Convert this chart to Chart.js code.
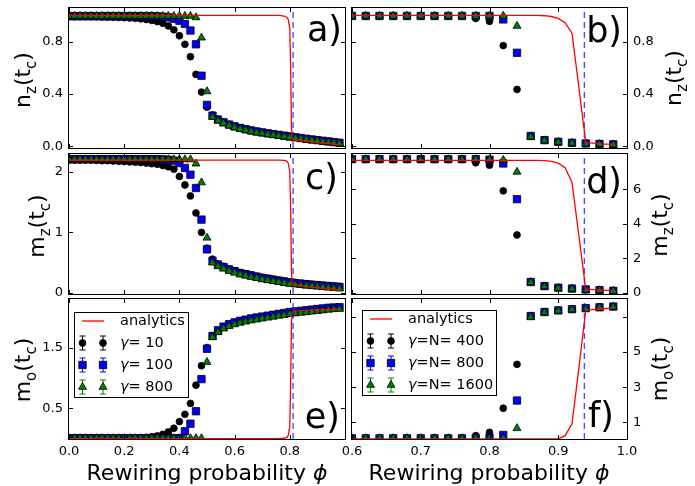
<!DOCTYPE html>
<html>
<head>
<meta charset="utf-8">
<script src="https://cdn.jsdelivr.net/npm/chart.js@4.4.1/dist/chart.umd.min.js"></script>
<style>
  body { margin: 0; background: #fff; }
  #fig { position: relative; width: 695px; height: 486px; overflow: hidden; background: #fff;
         font-family: "DejaVu Sans", sans-serif; color: #000; }
  #fig canvas { position: absolute; }
  .ylab { position: absolute; font-size: 22px; line-height: 1; white-space: nowrap;
          transform: translate(-50%, -50%) rotate(-90deg); }
  .ylab span { font-size: 15px; position: relative; top: 6px; }
  .xlab { position: absolute; font-size: 22px; line-height: 1; white-space: nowrap;
          transform: translate(-50%, -50%); }
</style>
</head>
<body>
<div id="fig">
  <canvas id="pa" width="350" height="150" style="left:0;top:0"></canvas>
  <canvas id="pc" width="350" height="146" style="left:0;top:150px"></canvas>
  <canvas id="pe" width="350" height="190" style="left:0;top:296px"></canvas>
  <canvas id="pb" width="365" height="150" style="left:330px;top:0"></canvas>
  <canvas id="pd" width="365" height="146" style="left:330px;top:150px"></canvas>
  <canvas id="pf" width="365" height="190" style="left:330px;top:296px"></canvas>

  <div class="ylab" style="left:22.5px;top:80px">n<span>z</span>(t<span>c</span>)</div>
  <div class="ylab" style="left:37px;top:226px">m<span>z</span>(t<span>c</span>)</div>
  <div class="ylab" style="left:22.5px;top:370px">m<span>o</span>(t<span>c</span>)</div>
  <div class="ylab" style="left:673.5px;top:78px">n<span>z</span>(t<span>c</span>)</div>
  <div class="ylab" style="left:659.5px;top:225px">m<span>z</span>(t<span>c</span>)</div>
  <div class="ylab" style="left:659.5px;top:369px">m<span>o</span>(t<span>c</span>)</div>
  <div class="xlab" style="left:207px;top:473px">Rewiring probability <i>ϕ</i></div>
  <div class="xlab" style="left:489px;top:473px">Rewiring probability <i>ϕ</i></div>
</div>
<script>
// ---- data: left column (gamma = 10, 100, 800) ----
const phiLeft = [
  0.00, 0.02, 0.04, 0.06, 0.08, 0.10, 0.12, 0.14, 0.16, 0.18,
  0.20, 0.22, 0.24, 0.26, 0.28, 0.30, 0.32, 0.34, 0.36, 0.38,
  0.40, 0.42, 0.44, 0.46, 0.48, 0.50, 0.52, 0.54, 0.56, 0.58,
  0.60, 0.62, 0.64, 0.66, 0.68, 0.70, 0.72, 0.74, 0.76, 0.78,
  0.80, 0.82, 0.84, 0.86, 0.88, 0.90, 0.92, 0.94, 0.96, 0.98
];
const legendLeft = ['analytics', 'γ= 10', 'γ= 100', 'γ= 800'];

// a) n_z(t_c)
const nzLeftG10 = [
  0.99, 0.99, 0.99, 0.99, 0.99, 0.99, 0.988, 0.987, 0.986, 0.985,
  0.983, 0.981, 0.978, 0.974, 0.969, 0.962, 0.953, 0.94, 0.92, 0.89,
  0.845, 0.78, 0.685, 0.55, 0.415, 0.30, 0.24, 0.208, 0.186, 0.168,
  0.154, 0.142, 0.132, 0.123, 0.115, 0.108, 0.101, 0.095, 0.089, 0.083,
  0.077, 0.071, 0.065, 0.059, 0.054, 0.049, 0.044, 0.039, 0.034, 0.029
];
const nzLeftG100 = [
  0.995, 0.995, 0.995, 0.995, 0.995, 0.995, 0.995, 0.995, 0.995, 0.995,
  0.995, 0.995, 0.995, 0.995, 0.995, 0.995, 0.993, 0.99, 0.985, 0.975,
  0.96, 0.935, 0.885, 0.78, 0.54, 0.317, 0.235, 0.205, 0.184, 0.167,
  0.153, 0.141, 0.131, 0.122, 0.114, 0.107, 0.10, 0.094, 0.088, 0.082,
  0.076, 0.07, 0.064, 0.058, 0.053, 0.048, 0.043, 0.038, 0.033, 0.028
];
const nzLeftG800 = [
  0.996, 0.996, 0.996, 0.996, 0.996, 0.996, 0.996, 0.996, 0.996, 0.996,
  0.996, 0.996, 0.996, 0.996, 0.996, 0.996, 0.996, 0.996, 0.996, 0.996,
  0.996, 0.996, 0.996, 0.985, 0.83, 0.42, 0.225, 0.197, 0.176, 0.159,
  0.145, 0.133, 0.123, 0.114, 0.106, 0.099, 0.092, 0.086, 0.08, 0.074,
  0.068, 0.062, 0.056, 0.051, 0.046, 0.041, 0.036, 0.031, 0.026, 0.021
];
const analyticPhiLeft = [0.00, 0.76, 0.78, 0.79, 0.795, 0.80, 0.803, 0.806, 0.808, 0.815, 0.85, 0.90, 0.95, 0.98];
const nzLeftAnalytic = [1.0, 1.0, 0.995, 0.985, 0.965, 0.90, 0.60, 0.15, 0.065, 0.05, 0.04, 0.03, 0.02, 0.013];

// c) m_z(t_c)
const mzLeftG10 = [
  2.19, 2.19, 2.19, 2.19, 2.19, 2.185, 2.18, 2.18, 2.175, 2.17,
  2.165, 2.16, 2.155, 2.15, 2.14, 2.13, 2.12, 2.10, 2.08, 2.04,
  1.92, 1.78, 1.60, 1.32, 1.0, 0.74, 0.56, 0.48, 0.44, 0.40,
  0.37, 0.34, 0.32, 0.30, 0.28, 0.26, 0.245, 0.23, 0.215, 0.20,
  0.185, 0.175, 0.165, 0.155, 0.147, 0.139, 0.131, 0.123, 0.116, 0.109
];
const mzLeftG100 = [
  2.205, 2.205, 2.205, 2.205, 2.205, 2.205, 2.205, 2.205, 2.205, 2.205,
  2.205, 2.205, 2.205, 2.205, 2.205, 2.205, 2.205, 2.20, 2.195, 2.18,
  2.14, 2.06, 1.95, 1.73, 1.21, 0.72, 0.53, 0.47, 0.43, 0.39,
  0.36, 0.33, 0.31, 0.29, 0.27, 0.25, 0.235, 0.22, 0.205, 0.19,
  0.175, 0.165, 0.155, 0.145, 0.138, 0.13, 0.123, 0.116, 0.109, 0.102
];
const mzLeftG800 = [
  2.20, 2.20, 2.20, 2.20, 2.20, 2.20, 2.20, 2.20, 2.20, 2.20,
  2.20, 2.20, 2.20, 2.20, 2.20, 2.20, 2.20, 2.20, 2.20, 2.20,
  2.20, 2.20, 2.20, 2.13, 1.82, 0.91, 0.50, 0.44, 0.40, 0.365,
  0.335, 0.305, 0.285, 0.265, 0.245, 0.225, 0.21, 0.195, 0.18, 0.165,
  0.15, 0.14, 0.13, 0.12, 0.112, 0.104, 0.096, 0.088, 0.08, 0.072
];
const mzLeftAnalytic = [2.19, 2.19, 2.185, 2.17, 2.13, 2.0, 1.4, 0.4, 0.17, 0.14, 0.12, 0.09, 0.06, 0.045];

// e) m_o(t_c)
const moLeftG10 = [
  0.005, 0.005, 0.005, 0.005, 0.005, 0.005, 0.005, 0.005, 0.005, 0.005,
  0.005, 0.005, 0.005, 0.01, 0.018, 0.03, 0.045, 0.07, 0.11, 0.17,
  0.28, 0.40, 0.58, 0.88, 1.20, 1.50, 1.69, 1.78, 1.84, 1.88,
  1.91, 1.935, 1.955, 1.975, 1.99, 2.005, 2.02, 2.035, 2.05, 2.065,
  2.08, 2.09, 2.10, 2.11, 2.12, 2.13, 2.14, 2.15, 2.155, 2.16
];
const moLeftG100 = [
  0.005, 0.005, 0.005, 0.005, 0.005, 0.005, 0.005, 0.005, 0.005, 0.005,
  0.005, 0.005, 0.005, 0.005, 0.005, 0.005, 0.005, 0.005, 0.005, 0.005,
  0.005, 0.12, 0.245, 0.45, 0.98, 1.48, 1.69, 1.785, 1.845, 1.885,
  1.915, 1.94, 1.96, 1.98, 1.995, 2.01, 2.025, 2.04, 2.055, 2.07,
  2.085, 2.095, 2.105, 2.115, 2.125, 2.135, 2.145, 2.155, 2.16, 2.165
];
const moLeftG800 = [
  0.005, 0.005, 0.005, 0.005, 0.005, 0.005, 0.005, 0.005, 0.005, 0.005,
  0.005, 0.005, 0.005, 0.005, 0.005, 0.005, 0.005, 0.005, 0.005, 0.005,
  0.005, 0.005, 0.005, 0.005, 0.005, 1.26, 1.67, 1.75, 1.81, 1.85,
  1.88, 1.905, 1.925, 1.945, 1.96, 1.975, 1.99, 2.005, 2.02, 2.035,
  2.05, 2.06, 2.07, 2.08, 2.09, 2.10, 2.11, 2.12, 2.13, 2.135
];
const moLeftAnalytic = [0.0, 0.0, 0.005, 0.02, 0.06, 0.20, 0.90, 1.90, 2.08, 2.10, 2.11, 2.12, 2.13, 2.135];
const phiCritLeft = 0.812;

// ---- data: right column (gamma = N = 400, 800, 1600) ----
const phiRight = [
  0.60, 0.62, 0.64, 0.66, 0.68, 0.70, 0.72, 0.74, 0.76, 0.78,
  0.80, 0.82, 0.84, 0.86, 0.88, 0.90, 0.92, 0.94, 0.96, 0.98
];
const legendRight = ['analytics', 'γ=N= 400', 'γ=N= 800', 'γ=N= 1600'];

// b) n_z(t_c)
const nzRightN400 = [0.995, 0.995, 0.995, 0.995, 0.995, 0.995, 0.995, 0.995, 0.995, 0.977,
  0.955, 0.77, 0.435, 0.078, 0.05, 0.036, 0.029, 0.024, 0.02, 0.017];
const nzRightN800 = [0.996, 0.996, 0.996, 0.996, 0.996, 0.996, 0.996, 0.996, 0.996, 0.996,
  0.996, 0.97, 0.715, 0.08, 0.048, 0.035, 0.028, 0.023, 0.019, 0.016];
const nzRightN1600 = [0.997, 0.997, 0.997, 0.997, 0.997, 0.997, 0.997, 0.997, 0.997, 0.997,
  0.997, 0.997, 0.92, 0.074, 0.045, 0.033, 0.026, 0.021, 0.017, 0.014];
const analyticPhiRight = [0.60, 0.87, 0.88, 0.89, 0.90, 0.91, 0.92, 0.93, 0.94, 0.95, 0.96, 0.97, 0.98];
const nzRightAnalytic = [1.0, 1.0, 0.998, 0.992, 0.978, 0.945, 0.865, 0.45, 0.03, 0.025, 0.02, 0.017, 0.015];

// d) m_z(t_c)
const mzRightN400 = [7.74, 7.74, 7.74, 7.74, 7.74, 7.74, 7.74, 7.74, 7.74, 7.54,
  7.40, 5.91, 3.35, 0.64, 0.40, 0.30, 0.25, 0.20, 0.16, 0.12];
const mzRightN800 = [7.75, 7.75, 7.75, 7.75, 7.75, 7.75, 7.75, 7.75, 7.75, 7.75,
  7.72, 7.50, 5.43, 0.62, 0.38, 0.29, 0.24, 0.19, 0.15, 0.11];
const mzRightN1600 = [7.74, 7.74, 7.74, 7.74, 7.74, 7.74, 7.74, 7.74, 7.74, 7.74,
  7.74, 7.70, 7.01, 0.60, 0.36, 0.27, 0.22, 0.17, 0.13, 0.09];
const mzRightAnalytic = [7.68, 7.68, 7.66, 7.62, 7.52, 7.25, 6.4, 3.3, 0.20, 0.18, 0.16, 0.14, 0.12];

// f) m_o(t_c)
const moRightN400 = [0.09, 0.09, 0.09, 0.09, 0.09, 0.09, 0.09, 0.09, 0.09, 0.24,
  0.43, 1.80, 4.30, 7.06, 7.29, 7.38, 7.44, 7.51, 7.55, 7.59];
const moRightN800 = [0.09, 0.09, 0.09, 0.09, 0.09, 0.09, 0.09, 0.09, 0.09, 0.09,
  0.12, 0.28, 2.24, 7.05, 7.28, 7.37, 7.44, 7.50, 7.55, 7.59];
const moRightN1600 = [0.09, 0.09, 0.09, 0.09, 0.09, 0.09, 0.09, 0.09, 0.09, 0.09,
  0.09, 0.09, 0.66, 7.00, 7.25, 7.35, 7.42, 7.48, 7.53, 7.57];
const moAnalyticPhiRight = [0.60, 0.90, 0.91, 0.92, 0.93, 0.94, 0.95, 0.96, 0.97, 0.98];
const moRightAnalytic = [0.06, 0.06, 0.24, 0.91, 4.1, 7.38, 7.42, 7.45, 7.48, 7.51];
const phiCritRight = 0.938;

// ---- axis ticks ----
const xTicksLeft = [0.0, 0.2, 0.4, 0.6, 0.8, 1.0];
const xLabelsLeft = ['0.0', '0.2', '0.4', '0.6', '0.8', ''];
const xTicksRight = [0.6, 0.7, 0.8, 0.9, 1.0];
const xLabelsRight = ['0.6', '0.7', '0.8', '0.9', '1.0'];
const yTicksNz = [0.0, 0.4, 0.8];
const yLabelsNz = ['0.0', '0.4', '0.8'];
const yTicksMzLeft = [0, 1, 2];
const yLabelsMzLeft = ['0', '1', '2'];
const yTicksMzRight = [0, 2, 4, 6];
const yLabelsMzRight = ['0', '2', '4', '6'];
const yTicksMoLeft = [0.5, 1.5];
const yLabelsMoLeft = ['0.5', '1.5'];
const yTicksMoRight = [1, 3, 5, 7];
const yLabelsMoRight = ['1', '3', '5', ''];

Chart.defaults.font.family = '"DejaVu Sans", sans-serif';
Chart.defaults.font.size = 13;
Chart.defaults.color = '#000';

const pts = (xs, ys) => xs.map((x, i) => ({ x: x, y: ys[i] }));

const markers = [
  { kind: 'circle', pointStyle: 'circle', pointRadius: 3.4, fill: '#000000' },
  { kind: 'rect', pointStyle: 'rect', pointRadius: 5.2, fill: '#0000ff' },
  { kind: 'triangle', pointStyle: 'triangle', pointRadius: 4.6, fill: '#008000' }
];

function drawGlyph(ctx, kind, x, y) {
  ctx.beginPath();
  if (kind === 'circle') ctx.arc(x, y, 3.4, 0, Math.PI * 2);
  else if (kind === 'rect') ctx.rect(x - 3.7, y - 3.7, 7.4, 7.4);
  else { ctx.moveTo(x, y - 4.6); ctx.lineTo(x + 4, y + 2.3); ctx.lineTo(x - 4, y + 2.3); ctx.closePath(); }
  ctx.fill();
  ctx.stroke();
}

// frame, inward ticks, panel letter and legend box
const decor = {
  id: 'decor',
  afterDatasetsDraw(chart, args, o) {
    const ctx = chart.ctx, a = chart.chartArea;
    const xs = chart.scales.x, ys = chart.scales.y;
    ctx.save();
    ctx.strokeStyle = '#000';
    ctx.lineWidth = 1;
    ctx.strokeRect(a.left - 0.5, a.top - 0.5, a.right - a.left + 1, a.bottom - a.top + 1);
    ctx.beginPath();
    xs.ticks.forEach(t => {
      const px = Math.round(xs.getPixelForValue(t.value)) + 0.5;
      ctx.moveTo(px, a.bottom); ctx.lineTo(px, a.bottom - 4);
      ctx.moveTo(px, a.top); ctx.lineTo(px, a.top + 4);
    });
    ys.ticks.forEach(t => {
      const py = Math.round(ys.getPixelForValue(t.value)) + 0.5;
      ctx.moveTo(a.left, py); ctx.lineTo(a.left + 4, py);
      ctx.moveTo(a.right, py); ctx.lineTo(a.right - 4, py);
    });
    ctx.stroke();

    ctx.fillStyle = '#000';
    ctx.font = '35px "DejaVu Sans"';
    ctx.textAlign = 'right';
    ctx.textBaseline = 'alphabetic';
    ctx.fillText(o.tag, a.right - o.tagDx, a.top + o.tagDy);

    if (o.legend) {
      const L = o.legend;
      const bx = Math.round(a.left + L.dx), by = Math.round(a.top + L.dy);
      ctx.fillStyle = '#fff';
      ctx.fillRect(bx, by, L.w, L.h);
      ctx.strokeStyle = '#000';
      ctx.strokeRect(bx + 0.5, by + 0.5, L.w, L.h);
      const rows = [9, 31, 53, 75];
      ctx.textAlign = 'left';
      ctx.textBaseline = 'middle';
      L.names.forEach((name, i) => {
        const cy = by + rows[i];
        if (i === 0) {
          ctx.strokeStyle = '#ff0000';
          ctx.lineWidth = 1.3;
          ctx.beginPath(); ctx.moveTo(bx + 8, cy); ctx.lineTo(bx + 30, cy); ctx.stroke();
        } else {
          const m = markers[i - 1];
          [bx + 8.5, bx + 29].forEach(mx => {
            ctx.strokeStyle = m.fill;
            ctx.lineWidth = 1;
            ctx.beginPath();
            ctx.moveTo(mx, cy - 7); ctx.lineTo(mx, cy + 7);
            ctx.moveTo(mx - 3, cy - 7); ctx.lineTo(mx + 3, cy - 7);
            ctx.moveTo(mx - 3, cy + 7); ctx.lineTo(mx + 3, cy + 7);
            ctx.stroke();
            ctx.fillStyle = m.fill;
            ctx.strokeStyle = '#000';
            ctx.lineWidth = 0.8;
            drawGlyph(ctx, m.kind, mx, cy);
          });
        }
        ctx.fillStyle = '#000';
        let tx = bx + 46;
        let rest = name;
        if (name.charAt(0) === 'γ') {
          ctx.font = 'italic 14.5px "DejaVu Sans"';
          ctx.fillText('γ', tx, cy);
          tx += ctx.measureText('γ').width;
          rest = name.slice(1);
        }
        ctx.font = '14.5px "DejaVu Sans"';
        ctx.fillText(rest, tx, cy);
      });
    }
    ctx.restore();
  }
};

function makePanel(id, p) {
  const sets = [
    { label: p.names[0], data: pts(p.aPhi, p.aVal), showLine: true, borderColor: '#ff0000',
      borderWidth: 1.3, pointRadius: 0, order: 0, clip: 0 },
    { label: 'critical point', data: [{ x: p.phiC, y: p.yMin }, { x: p.phiC, y: p.yMax }], showLine: true,
      borderColor: 'rgba(0,0,255,0.7)', borderDash: [6, 4], borderWidth: 1.4, pointRadius: 0, order: 1, clip: 0 }
  ];
  p.series.forEach((ys, i) => {
    const m = markers[i];
    sets.push({
      label: p.names[i + 1], data: pts(p.xs, ys), showLine: false,
      pointStyle: m.pointStyle, pointRadius: m.pointRadius,
      pointBackgroundColor: m.fill, pointBorderColor: '#000', pointBorderWidth: 0.8,
      order: 4 - i, clip: 0
    });
  });
  return new Chart(document.getElementById(id), {
    type: 'scatter',
    data: { datasets: sets },
    options: {
      responsive: false,
      animation: false,
      events: [],
      layout: { padding: p.pad, autoPadding: false },
      plugins: {
        legend: { display: false },
        tooltip: { enabled: false },
        decor: { tag: p.tag, tagDx: p.tagDx, tagDy: p.tagDy, legend: p.legend }
      },
      scales: {
        x: {
          type: 'linear', min: p.xMin, max: p.xMax,
          grid: { display: false, drawTicks: false }, border: { display: false },
          ticks: { display: p.showX, padding: 5, autoSkip: false, maxRotation: 0,
                   callback: (v, i) => p.xLabels[i] },
          afterBuildTicks: s => { s.ticks = p.xTicks.map(v => ({ value: v })); },
          afterFit: s => { s.height = p.xHeight; s.paddingLeft = 0; s.paddingRight = 0; }
        },
        y: {
          type: 'linear', position: p.yPos, min: p.yMin, max: p.yMax,
          grid: { display: false, drawTicks: false }, border: { display: false },
          ticks: { padding: 6, autoSkip: false, callback: (v, i) => p.yLabels[i] },
          afterBuildTicks: s => { s.ticks = p.yTicks.map(v => ({ value: v })); },
          afterFit: s => { s.width = p.yWidth; s.paddingTop = 0; s.paddingBottom = 0; }
        }
      }
    },
    plugins: [decor]
  });
}

const leftBase = { xs: phiLeft, aPhi: analyticPhiLeft, phiC: phiCritLeft, names: legendLeft,
  xMin: 0, xMax: 1.0, xTicks: xTicksLeft, xLabels: xLabelsLeft, yPos: 'left', yWidth: 69 };
const rightBase = { xs: phiRight, aPhi: analyticPhiRight, phiC: phiCritRight, names: legendRight,
  xMin: 0.6, xMax: 1.0, xTicks: xTicksRight, xLabels: xLabelsRight, yPos: 'right', yWidth: 68 };

makePanel('pa', Object.assign({}, leftBase, {
  series: [nzLeftG10, nzLeftG100, nzLeftG800], aVal: nzLeftAnalytic,
  yMin: -0.012, yMax: 1.057, yTicks: yTicksNz, yLabels: yLabelsNz,
  showX: false, xHeight: 2, pad: { left: 0, right: 5, top: 8, bottom: 0 },
  tag: 'a)', tagDx: 3, tagDy: 33
}));
makePanel('pc', Object.assign({}, leftBase, {
  series: [mzLeftG10, mzLeftG100, mzLeftG800], aVal: mzLeftAnalytic,
  yMin: -0.015, yMax: 2.29, yTicks: yTicksMzLeft, yLabels: yLabelsMzLeft,
  showX: false, xHeight: 2, pad: { left: 0, right: 5, top: 4, bottom: 0 },
  tag: 'c)', tagDx: 7, tagDy: 35
}));
makePanel('pe', Object.assign({}, leftBase, {
  series: [moLeftG10, moLeftG100, moLeftG800], aVal: moLeftAnalytic,
  yMin: -0.007, yMax: 2.30, yTicks: yTicksMoLeft, yLabels: yLabelsMoLeft,
  showX: true, xHeight: 47, pad: { left: 0, right: 5, top: 3, bottom: 0 },
  tag: 'e)', tagDx: 5, tagDy: 129,
  legend: { dx: 5, dy: 13, w: 114, h: 85, names: legendLeft }
}));
makePanel('pb', Object.assign({}, rightBase, {
  series: [nzRightN400, nzRightN800, nzRightN1600], aVal: nzRightAnalytic,
  yMin: -0.012, yMax: 1.057, yTicks: yTicksNz, yLabels: yLabelsNz,
  showX: false, xHeight: 2, pad: { left: 22, right: 0, top: 8, bottom: 0 },
  tag: 'b)', tagDx: 5, tagDy: 34
}));
makePanel('pd', Object.assign({}, rightBase, {
  series: [mzRightN400, mzRightN800, mzRightN1600], aVal: mzRightAnalytic,
  yMin: -0.075, yMax: 8.05, yTicks: yTicksMzRight, yLabels: yLabelsMzRight,
  showX: false, xHeight: 2, pad: { left: 22, right: 0, top: 4, bottom: 0 },
  tag: 'd)', tagDx: 5, tagDy: 39
}));
makePanel('pf', Object.assign({}, rightBase, {
  series: [moRightN400, moRightN800, moRightN1600], aPhi: moAnalyticPhiRight, aVal: moRightAnalytic,
  yMin: 0.05, yMax: 8.02, yTicks: yTicksMoRight, yLabels: yLabelsMoRight,
  showX: true, xHeight: 47, pad: { left: 22, right: 0, top: 3, bottom: 0 },
  tag: 'f)', tagDx: 13, tagDy: 128,
  legend: { dx: 10, dy: 11, w: 134, h: 85, names: legendRight }
}));
</script>
</body>
</html>
